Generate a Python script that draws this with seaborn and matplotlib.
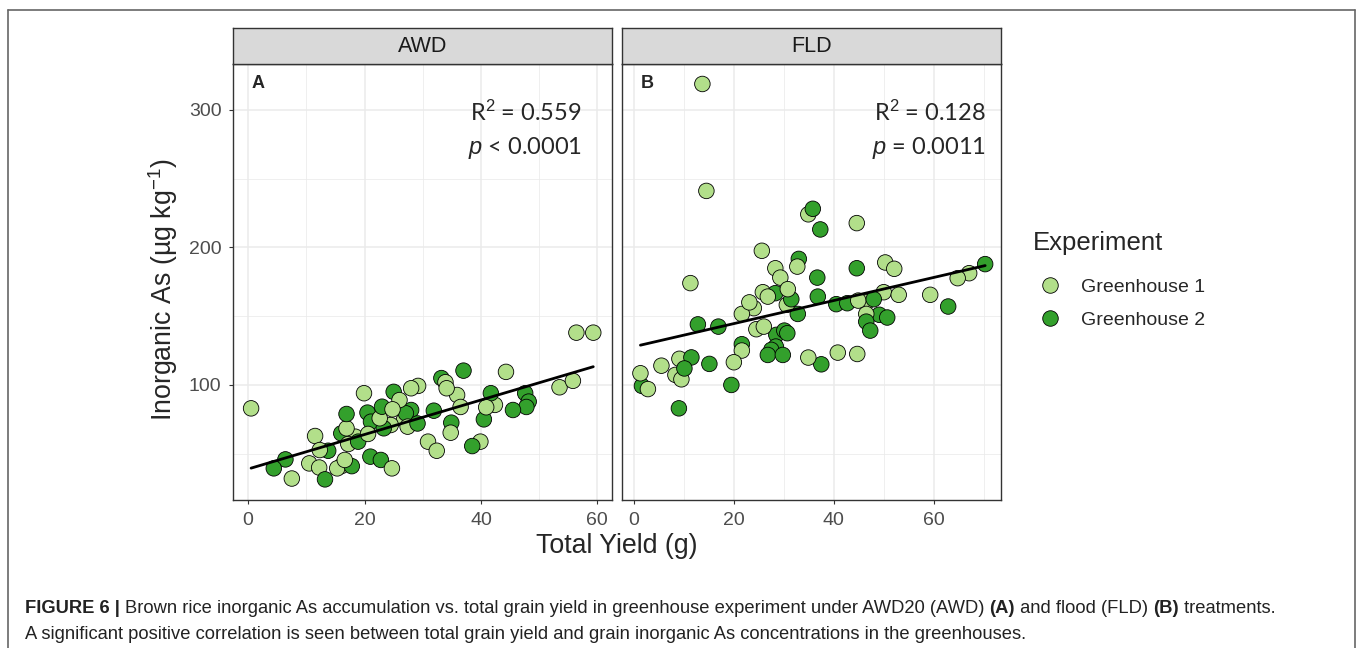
import matplotlib
matplotlib.use("Agg")
import matplotlib.pyplot as plt
from matplotlib.lines import Line2D
import numpy as np
import pandas as pd
import seaborn as sns

# values: (total yield g, inorganic As ug/kg)
awd_gh1_yield = [0.5, 56.4, 59.3, 44.3, 53.5, 55.8, 33.9, 34.1, 29.2, 28.0, 26.0, 19.9, 35.9,
                 36.5, 42.4, 40.9, 26.8, 27.4, 22.6, 24.8, 24.5, 20.6, 16.9, 18.4, 17.2, 11.5,
                 12.3, 10.5, 12.2, 7.5, 16.6, 16.0, 15.3, 24.7, 34.8, 30.9, 32.4, 39.9]
awd_gh1_as = [83, 138, 138, 109.5, 98.3, 103, 102, 97.6, 99.3, 97.6, 89, 94, 92.7,
              84, 85.5, 83.8, 75, 69.7, 75.8, 82.3, 70.9, 64.4, 68.5, 62.4, 57.1, 62.9,
              52.7, 43, 40, 32, 45.5, 41, 39.4, 39.4, 65.3, 58.8, 52.2, 58.8]
awd_gh2_yield = [37.0, 33.2, 25.0, 41.7, 47.6, 48.2, 47.8, 45.5, 40.5, 31.9, 34.9, 38.5, 28.0,
                 27.1, 29.1, 23.0, 20.5, 21.1, 23.3, 16.9, 16.0, 18.9, 13.75, 6.4, 4.4, 13.2,
                 17.8, 21.0, 22.8]
awd_gh2_as = [110.4, 105, 95, 94, 94, 87.9, 84, 81.8, 75, 81.3, 72.6, 55.6, 81.8,
              79.4, 72, 84.2, 79.9, 73.3, 68.5, 78.9, 64.8, 58.8, 52.2, 45.9, 39.4, 31.4,
              41, 47.9, 45.5]

fld_gh1_yield = [13.7, 14.5, 34.9, 44.6, 25.6, 32.7, 28.3, 29.3, 50.3, 52.1, 67.1, 64.8, 11.3,
                 30.8, 25.8, 26.8, 23.1, 24.0, 21.6, 30.6, 44.9, 46.5, 50.0, 53.0, 59.3, 46.5,
                 24.5, 26.0, 21.6, 34.9, 40.8, 44.7, 20.0, 9.1, 8.3, 9.5, 5.5, 1.3, 2.8]
fld_gh1_as = [318.7, 241, 224, 217.6, 197.5, 186, 184.8, 178, 189, 184.4, 181.2, 177.6, 174,
              169.6, 167.4, 164.2, 160, 155.8, 151.6, 158.2, 161.3, 160, 167.4, 165.5, 165.5, 151.6,
              140.5, 142.4, 125, 119.9, 123.5, 122.5, 116.5, 119, 107.3, 104.1, 114, 108.5, 97]
fld_gh2_yield = [35.8, 37.3, 33.0, 36.7, 44.6, 70.3, 28.3, 36.8, 31.5, 32.8, 40.5, 42.7, 48.0,
                 62.9, 46.5, 47.3, 49.1, 50.7, 12.8, 16.9, 28.5, 30.1, 30.7, 21.6, 28.4, 27.5,
                 26.8, 29.8, 37.5, 15.1, 11.5, 10.1, 1.6, 19.5, 9.0]
fld_gh2_as = [228, 213, 191.6, 178, 184.8, 187.8, 166.7, 164.2, 162.3, 151.6, 158.7, 159.4, 162.3,
              157, 146, 139.5, 151, 149, 144, 142.4, 136.4, 139.5, 137.6, 129.6, 127.9, 125.5,
              121.8, 121.8, 115, 115.3, 120, 112, 99.3, 100, 83]

treatments = ["AWD", "FLD"]
panel_tags = ["A", "B"]
r2_labels = ["R$^2$ = 0.559", "R$^2$ = 0.128"]
p_labels = ["$p$ < 0.0001", "$p$ = 0.0011"]
experiments = ["Greenhouse 1", "Greenhouse 2"]
colors = {"Greenhouse 1": "#B2DF8A", "Greenhouse 2": "#33A02C"}


def block(trt, exp, x, y):
    return pd.DataFrame({"treatment": trt, "Experiment": exp, "yield": x, "inas": y})


df = pd.concat([
    block("AWD", "Greenhouse 1", awd_gh1_yield, awd_gh1_as),
    block("AWD", "Greenhouse 2", awd_gh2_yield, awd_gh2_as),
    block("FLD", "Greenhouse 1", fld_gh1_yield, fld_gh1_as),
    block("FLD", "Greenhouse 2", fld_gh2_yield, fld_gh2_as),
], ignore_index=True)
# mix draw order a bit, like the original data order
df = df.iloc[np.argsort((df.index.values * 37) % len(df))].reset_index(drop=True)

sns.set_theme(style="white")
plt.rcParams["font.family"] = ["Liberation Sans", "DejaVu Sans"]
plt.rcParams["mathtext.fontset"] = "custom"
plt.rcParams["mathtext.rm"] = "Liberation Sans"
plt.rcParams["mathtext.it"] = "Liberation Sans:italic"

W, H = 1360, 648
fig = plt.figure(figsize=(W / 100, H / 100), dpi=100)


def fx(px):
    return px / W


def fy(py):
    return 1 - py / H


panel_left = [232.7, 621.7]
panel_w = 379.2
top_px, bot_px, strip_top = 64.3, 500, 28
xlims = [(-2.66, 62.5), (-2.45, 73.45)]
ylim = (16.4, 333)

for i, trt in enumerate(treatments):
    ax = fig.add_axes([fx(panel_left[i]), fy(bot_px), panel_w / W, (bot_px - top_px) / H])
    sub = df[df["treatment"] == trt]
    sns.scatterplot(data=sub, x="yield", y="inas", hue="Experiment", hue_order=experiments,
                    palette=colors, s=125, edgecolor="black", linewidth=0.6, ax=ax,
                    legend=(i == 1), zorder=3)
    sns.regplot(data=sub, x="yield", y="inas", scatter=False, ci=None, color="black",
                line_kws=dict(lw=2.0, zorder=4), ax=ax)
    ax.set_xlim(*xlims[i])
    ax.set_ylim(*ylim)
    ax.set_xticks([0, 20, 40, 60])
    ax.set_xticks([10, 30, 50] if i == 0 else [10, 30, 50, 70], minor=True)
    ax.set_yticks([100, 200, 300])
    ax.set_yticks([50, 150, 250], minor=True)
    ax.grid(True, which="major", color="#EBEBEB", lw=1.1, zorder=0)
    ax.grid(True, which="minor", color="#EBEBEB", lw=0.55, zorder=0)
    ax.set_axisbelow(True)
    ax.set_xlabel("")
    ax.set_ylabel("")
    for sp in ax.spines.values():
        sp.set_color("#333333")
        sp.set_linewidth(1.0)
    ax.tick_params(axis="both", which="major", length=3, width=0.8, color="#333333",
                   labelsize=14, labelcolor="#4D4D4D", bottom=True, left=(i == 0))
    ax.tick_params(axis="x", which="major", pad=5.5)
    ax.tick_params(axis="y", which="major", pad=5)
    ax.tick_params(axis="both", which="minor", length=0)
    if i == 1:
        ax.set_yticklabels([])
    ax.text(0.05, 0.957, panel_tags[i], transform=ax.transAxes, fontsize=13,
            fontweight="bold", ha="left", va="center")
    xr = 0.921 if i == 0 else 0.96
    ax.text(xr, 0.890, r2_labels[i], transform=ax.transAxes, fontsize=17,
            family=["Lato", "DejaVu Sans"], ha="right", va="center")
    ax.text(xr, 0.808, p_labels[i], transform=ax.transAxes, fontsize=17,
            family=["Lato", "DejaVu Sans"], ha="right", va="center")

    # facet strip
    sax = fig.add_axes([fx(panel_left[i]), fy(top_px), panel_w / W, (top_px - strip_top) / H])
    sax.set_facecolor("#D9D9D9")
    sax.set_xticks([])
    sax.set_yticks([])
    for sp in sax.spines.values():
        sp.set_color("#333333")
        sp.set_linewidth(1.0)
    sax.text(0.5, 0.48, trt, ha="center", va="center", fontsize=15.5, color="#1A1A1A",
             transform=sax.transAxes)

    if i == 1:
        sns.move_legend(ax, "upper left", bbox_to_anchor=(fx(1013), fy(261)),
                        bbox_transform=fig.transFigure, frameon=False, title=None,
                        fontsize=14, handletextpad=0.6, handlelength=2.0,
                        labelspacing=0.78, markerscale=1.0)

fig.text(fx(1033), fy(243), "Experiment", ha="left", va="center", fontsize=18.5)
fig.text(fx(616.5), fy(546), "Total Yield (g)", ha="center", va="center", fontsize=19.3)
fig.text(fx(163), fy(290), "Inorganic As (µg kg$^{-1}$)", ha="center", va="center",
         rotation=90, fontsize=19.3)

# outer frame of the journal figure
for xs, ys in [([8, 8], [10, 648]), ([8, 1355], [10, 10]), ([1355, 1355], [10, 648])]:
    fig.add_artist(Line2D([fx(v) for v in xs], [fy(v) for v in ys], color="#666666", lw=1.2))

# caption with bold pieces
renderer = fig.canvas.get_renderer()


def caption_line(segments, x_px, y_px, size=13.2):
    x = fx(x_px)
    for txt, bold in segments:
        t = fig.text(x, fy(y_px), txt, fontsize=size, va="baseline", ha="left",
                     fontweight="bold" if bold else "normal", color="#222222")
        x += t.get_window_extent(renderer=renderer).width / fig.bbox.width


caption_line([("FIGURE 6 | ", True),
              ("Brown rice inorganic As accumulation vs. total grain yield in greenhouse "
               "experiment under AWD20 (AWD) ", False),
              ("(A)", True), (" and flood (FLD) ", False), ("(B)", True),
              (" treatments.", False)], 25, 613)
caption_line([("A significant positive correlation is seen between total grain yield and "
               "grain inorganic As concentrations in the greenhouses.", False)], 25, 639)

fig.savefig("out.png", dpi=100)
